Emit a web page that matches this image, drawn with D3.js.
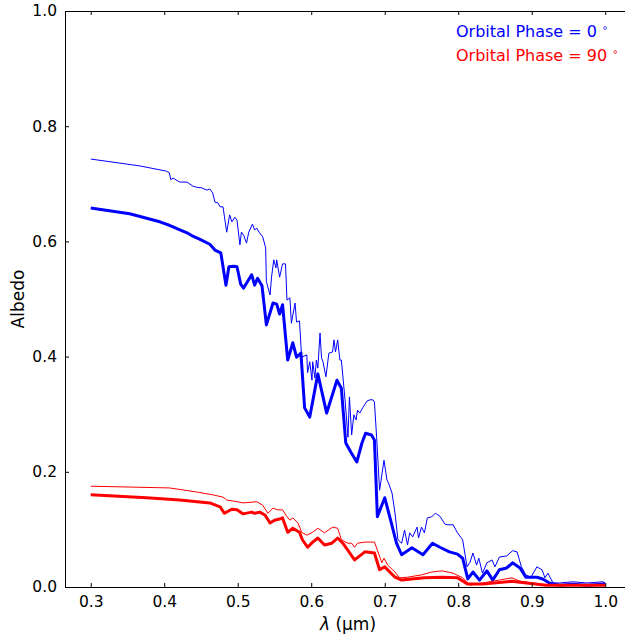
<!DOCTYPE html>
<html lang="en">
<head>
<meta charset="utf-8">
<title>Albedo spectra</title>
<script src="https://d3js.org/d3.v7.min.js"></script>
<style>
  body { margin: 0; background: #fff; }
  text { font-family: "DejaVu Sans", sans-serif; }
</style>
</head>
<body>
<div id="chart"></div>
<script>
// wavelength (um) / albedo pairs
var blueThinX = [0.300,0.367,0.403,0.407,0.409,0.412,0.421,0.431,0.439,0.444,0.451,0.458,0.462,0.466,0.469,0.473,0.476,0.480,0.485,0.489,0.492,0.496,0.499,0.503,0.505,0.508,0.512,0.515,0.520,0.523,0.526,0.529,0.534,0.538,0.539,0.544,0.546,0.549,0.552,0.553,0.557,0.561,0.565,0.567,0.571,0.573,0.578,0.580,0.584,0.587,0.594,0.595,0.598,0.601,0.602,0.605,0.607,0.609,0.612,0.614,0.616,0.620,0.624,0.629,0.631,0.633,0.636,0.639,0.641,0.646,0.650,0.652,0.655,0.658,0.661,0.663,0.666,0.670,0.676,0.680,0.684,0.686,0.689,0.693,0.699,0.703,0.705,0.710,0.714,0.718,0.723,0.727,0.731,0.734,0.738,0.744,0.746,0.750,0.754,0.758,0.764,0.769,0.775,0.782,0.786,0.793,0.799,0.806,0.812,0.816,0.820,0.825,0.828,0.833,0.839,0.846,0.850,0.856,0.866,0.874,0.880,0.886,0.892,0.899,0.907,0.914,0.918,0.922,0.929,0.938,0.956,0.975,0.997,1.000];
var blueThinY = [0.743,0.731,0.722,0.719,0.707,0.710,0.703,0.703,0.696,0.694,0.693,0.689,0.691,0.684,0.668,0.667,0.660,0.660,0.616,0.646,0.634,0.642,0.637,0.594,0.616,0.611,0.597,0.616,0.630,0.620,0.623,0.616,0.608,0.589,0.530,0.507,0.538,0.568,0.554,0.568,0.538,0.561,0.561,0.498,0.502,0.458,0.493,0.460,0.462,0.399,0.403,0.372,0.391,0.359,0.391,0.363,0.394,0.380,0.441,0.398,0.391,0.365,0.406,0.408,0.429,0.408,0.429,0.394,0.394,0.325,0.260,0.330,0.264,0.299,0.290,0.307,0.302,0.311,0.323,0.325,0.325,0.321,0.260,0.168,0.220,0.186,0.181,0.163,0.128,0.082,0.076,0.099,0.073,0.094,0.087,0.104,0.085,0.104,0.094,0.120,0.122,0.128,0.123,0.109,0.108,0.108,0.094,0.082,0.035,0.043,0.059,0.038,0.050,0.024,0.042,0.047,0.035,0.052,0.054,0.063,0.061,0.035,0.021,0.017,0.035,0.030,0.016,0.024,0.007,0.007,0.009,0.007,0.009,0.007];

var blueThickX = [0.300,0.353,0.394,0.407,0.431,0.439,0.448,0.462,0.469,0.477,0.484,0.488,0.495,0.499,0.504,0.508,0.519,0.523,0.527,0.533,0.539,0.548,0.553,0.557,0.561,0.568,0.575,0.580,0.586,0.591,0.598,0.609,0.621,0.635,0.641,0.647,0.654,0.662,0.669,0.674,0.682,0.686,0.690,0.700,0.708,0.716,0.723,0.737,0.752,0.765,0.775,0.788,0.799,0.806,0.813,0.820,0.829,0.839,0.847,0.856,0.866,0.874,0.884,0.892,0.907,0.915,0.924,0.938,0.956,0.975,1.000];
var blueThickY = [0.658,0.648,0.634,0.628,0.615,0.609,0.604,0.595,0.585,0.580,0.524,0.556,0.557,0.556,0.526,0.519,0.542,0.524,0.536,0.523,0.455,0.493,0.491,0.474,0.490,0.394,0.424,0.399,0.406,0.311,0.295,0.370,0.302,0.359,0.345,0.250,0.234,0.217,0.250,0.267,0.264,0.255,0.122,0.155,0.116,0.076,0.056,0.068,0.056,0.076,0.069,0.061,0.057,0.050,0.014,0.026,0.012,0.028,0.012,0.030,0.033,0.042,0.033,0.017,0.017,0.014,0.007,0.003,0.005,0.003,0.005];

var redThinX = [0.300,0.407,0.444,0.466,0.480,0.485,0.500,0.507,0.526,0.534,0.541,0.548,0.554,0.561,0.567,0.571,0.575,0.582,0.587,0.594,0.602,0.609,0.618,0.629,0.636,0.641,0.650,0.655,0.659,0.663,0.673,0.686,0.690,0.696,0.699,0.704,0.714,0.720,0.731,0.750,0.764,0.778,0.793,0.806,0.816,0.833,0.856,0.873,0.884,0.901,0.920,1.000];
var redThinY = [0.175,0.172,0.165,0.160,0.156,0.151,0.148,0.146,0.148,0.142,0.128,0.137,0.134,0.134,0.122,0.116,0.120,0.111,0.095,0.090,0.095,0.102,0.094,0.104,0.102,0.082,0.076,0.076,0.069,0.076,0.078,0.078,0.064,0.042,0.050,0.038,0.026,0.016,0.017,0.021,0.026,0.028,0.024,0.016,0.003,0.007,0.012,0.016,0.010,0.007,0.003,0.003];

var redThickX = [0.300,0.376,0.421,0.462,0.476,0.482,0.492,0.499,0.507,0.519,0.523,0.530,0.537,0.544,0.550,0.557,0.561,0.568,0.575,0.584,0.588,0.595,0.602,0.609,0.618,0.628,0.636,0.643,0.659,0.673,0.686,0.693,0.700,0.714,0.723,0.754,0.778,0.799,0.813,0.833,0.873,0.893,0.920,1.000];
var redThickY = [0.160,0.155,0.151,0.146,0.139,0.128,0.135,0.134,0.127,0.130,0.128,0.130,0.125,0.111,0.116,0.118,0.120,0.095,0.102,0.095,0.082,0.069,0.078,0.085,0.073,0.076,0.085,0.076,0.047,0.061,0.059,0.030,0.035,0.017,0.012,0.016,0.017,0.016,0.005,0.005,0.010,0.007,0.003,0.003];

var xTicks = [0.3, 0.4, 0.5, 0.6, 0.7, 0.8, 0.9, 1.0];
var yTicks = [0.0, 0.2, 0.4, 0.6, 0.8, 1.0];
var legendLabels = ["Orbital Phase = 0", "Orbital Phase = 90"];

var width = 625, height = 635;
var mLeft = 65, mTop = 11, mBottom = 587;

var svg = d3.select("#chart").append("svg")
    .attr("width", width)
    .attr("height", height);

var x = d3.scaleLinear().domain([0.265, 1.035]).range([mLeft, mLeft + 0.77 * 735]);
var y = d3.scaleLinear().domain([0, 1]).range([mBottom, mTop]);

function zip(xs, ys) { return xs.map(function (v, i) { return [v, ys[i]]; }); }

var line = d3.line()
    .x(function (d) { return x(d[0]); })
    .y(function (d) { return y(d[1]); });

var series = [
    { data: zip(blueThinX, blueThinY), color: "#0000ff", w: 1 },
    { data: zip(blueThickX, blueThickY), color: "#0000ff", w: 3 },
    { data: zip(redThinX, redThinY), color: "#ff0000", w: 1 },
    { data: zip(redThickX, redThickY), color: "#ff0000", w: 3 }
];

svg.selectAll("path.series")
    .data(series)
    .enter()
    .append("path")
    .attr("class", "series")
    .attr("d", function (d) { return line(d.data); })
    .attr("fill", "none")
    .attr("stroke", function (d) { return d.color; })
    .attr("stroke-width", function (d) { return d.w; })
    .attr("stroke-linejoin", "round");

// axes, ticks pointing inward like matplotlib's direction='in'
var fmt = d3.format(".1f");
svg.append("g")
    .attr("transform", "translate(0," + mBottom + ")")
    .call(d3.axisBottom(x).tickValues(xTicks).tickFormat(fmt).tickSizeInner(-4).tickSizeOuter(0).tickPadding(9));
svg.append("g")
    .attr("transform", "translate(0," + mTop + ")")
    .call(d3.axisTop(x).tickValues(xTicks).tickFormat("").tickSizeInner(-4).tickSizeOuter(0));
svg.append("g")
    .attr("transform", "translate(" + mLeft + ",0)")
    .call(d3.axisLeft(y).tickValues(yTicks).tickFormat(fmt).tickSizeInner(-4).tickSizeOuter(0).tickPadding(8));

svg.selectAll(".domain").attr("stroke", "#000").attr("stroke-width", 1);
svg.selectAll(".tick line").attr("stroke", "#000");
svg.selectAll(".tick text")
    .attr("fill", "#000")
    .style("font-size", "15.5px")
    .style("font-family", "DejaVu Sans, sans-serif");

// axis labels
svg.append("text")
    .attr("transform", "translate(24," + ((mTop + mBottom) / 2) + ") rotate(-90)")
    .attr("text-anchor", "middle")
    .style("font-size", "17px")
    .text("Albedo");

var xl = svg.append("text")
    .attr("x", (mLeft + 631) / 2)
    .attr("y", 630)
    .attr("text-anchor", "middle")
    .style("font-size", "17px");
xl.append("tspan").style("font-style", "italic").text("λ");
xl.append("tspan").text(" (μm)");

// legend text
var legColors = ["#0000ff", "#ff0000"];
legendLabels.forEach(function (lab, i) {
    var t = svg.append("text")
        .attr("x", 456)
        .attr("y", 37 + i * 24)
        .attr("fill", legColors[i])
        .style("font-size", "16px");
    t.append("tspan").text(lab + " ");
    t.append("tspan").attr("dy", -6).style("font-size", "10px").text("∘");
});
</script>
</body>
</html>
